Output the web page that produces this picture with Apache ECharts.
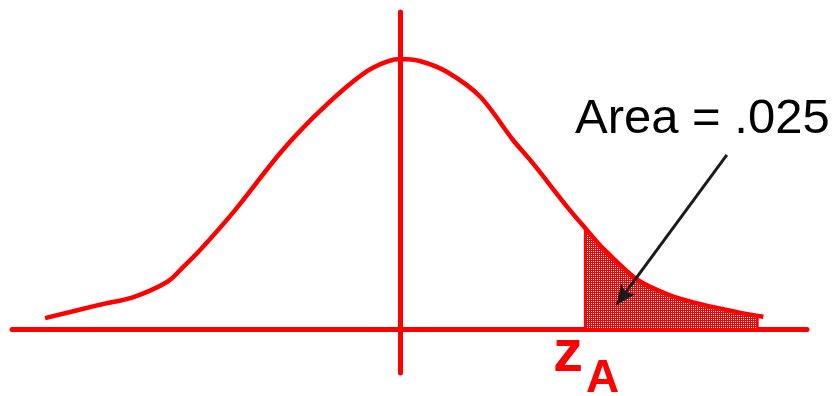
<!DOCTYPE html>
<html>
<head>
<meta charset="utf-8">
<script src="https://cdn.jsdelivr.net/npm/echarts@6/dist/echarts.min.js"></script>
<style>
  html, body { margin: 0; padding: 0; background: #fff; }
  #chart { width: 837px; height: 396px; }
</style>
</head>
<body>
<div id="chart"></div>
<script>
// curve: z position and relative height
var curveX = [-3.80, -3.21, -2.86, -2.49, -2.32, -2.14, -1.79, -1.28, -0.93, -0.57, -0.29, 0,
              0.21, 0.50, 0.86, 1.21, 1.42, 1.79, 1.98, 2.17, 2.54, 2.89, 3.24, 3.61, 3.89];
var curveY = [0.016, 0.036, 0.047, 0.070, 0.092, 0.117, 0.172, 0.261, 0.313, 0.359, 0.387, 0.400,
              0.397, 0.381, 0.344, 0.280, 0.246, 0.181, 0.150, 0.120, 0.073, 0.050, 0.036, 0.025, 0.018];
// shaded tail (right of z_A)
var tailX = [1.98, 1.98, 2.17, 2.54, 2.89, 3.24, 3.61, 3.83, 3.83];
var tailY = [0, 0.150, 0.120, 0.073, 0.050, 0.036, 0.025, 0.019, 0];
var areaLabel = 'Area = .025';
// arrow from label down into the tail
var arrowFrom = [3.50, 0.258];
var arrowTo = [2.32, 0.036];

function zip(xs, ys){
	let out = [];
	for (let i = 0; i < xs.length; i++) out.push([xs[i], ys[i]]);
	return out;
}

// dotted red fill like the original hatch
function hatch(){
	let c = document.createElement('canvas');
	c.width = 2; c.height = 2;
	let g = c.getContext('2d');
	g.fillStyle = '#ff0000';
	g.fillRect(0, 0, 2, 2);
	g.fillStyle = '#ffffff';
	g.fillRect(1, 1, 1, 1);
	return c;
}

var chart = echarts.init(document.getElementById('chart'));
var red = '#ff0000';

var option = {
	animation: false,
	grid: { left: 12, right: 30, top: 12, bottom: 23 },
	xAxis: {
		type: 'value', min: -4.154, max: 4.358,
		axisLine: { onZero: true, lineStyle: { color: red, width: 5 } },
		axisTick: { show: false }, axisLabel: { show: false }, splitLine: { show: false }
	},
	yAxis: {
		type: 'value', min: -0.0652, max: 0.4696,
		axisLine: { show: true, onZero: true, lineStyle: { color: red, width: 5 } },
		axisTick: { show: false }, axisLabel: { show: false }, splitLine: { show: false }
	},
	series: [
		{
			type: 'line',
			data: zip(tailX, tailY),
			symbol: 'none',
			lineStyle: { color: red, width: 2 },
			areaStyle: { color: { image: hatch(), repeat: 'repeat' }, opacity: 1 },
			z: 1
		},
		{
			type: 'line',
			data: zip(curveX, curveY),
			smooth: 0.3,
			symbol: 'none',
			lineStyle: { color: red, width: 4.5 },
			z: 3,
			markLine: {
				silent: true,
				symbol: ['none', 'arrow'],
				symbolSize: [14, 20],
				label: { show: false },
				lineStyle: { color: '#1a1a1a', width: 3, type: 'solid' },
				data: [[ { coord: arrowFrom }, { coord: arrowTo } ]]
			}
		}
	],
	graphic: [
		{
			type: 'text', left: 575, top: 95,
			style: { text: areaLabel, fill: '#000', font: '49px "Liberation Sans", Arial, sans-serif' }
		},
		{
			type: 'text', left: 553, top: 324,
			style: { text: 'z', fill: red, font: 'bold 60px "Liberation Sans", Arial, sans-serif' }
		},
		{
			type: 'text', left: 586, top: 356,
			style: { text: 'A', fill: red, font: 'bold 46px "Liberation Sans", Arial, sans-serif' }
		}
	]
};
chart.setOption(option);
</script>
</body>
</html>
